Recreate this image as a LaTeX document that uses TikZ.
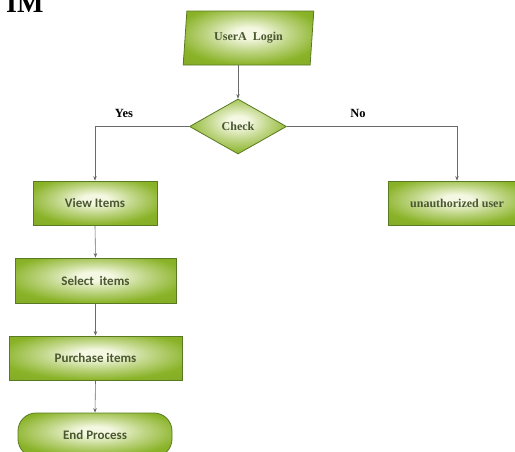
\documentclass[tikz,border=0pt]{standalone}
\usepackage{fontspec}
\setmainfont{Liberation Serif}
\newfontfamily\boxsans{Carlito}
\usetikzlibrary{shapes.geometric,arrows.meta}
\definecolor{leafout}{HTML}{8AB328}
\definecolor{leafin}{HTML}{F4F8E2}
\definecolor{leafedge}{HTML}{5A7A22}
\definecolor{leaftext}{HTML}{4A5730}
\definecolor{wire}{HTML}{6A6A6A}
\pgfdeclareradialshading{glow}{\pgfpoint{0bp}{5bp}}{color(0bp)=(leafin); color(5bp)=(leafin); color(16bp)=(leafout!50!leafin); color(28bp)=(leafout); color(48bp)=(leafout!90!black); color(75bp)=(leafout!75!black)}
\tikzset{
  leaf/.style={draw=leafedge, line width=0.8pt, shading=glow, text=leaftext, inner sep=0pt},
  sansbox/.style={leaf, rectangle, font=\boxsans\bfseries\fontsize{13}{15}\selectfont, minimum height=44},
  serifbox/.style={leaf, font=\bfseries\fontsize{12}{14}\selectfont},
  flow/.style={draw=wire, line width=0.6pt, -{Stealth[length=4.5pt,width=3.5pt]}},
  branch/.style={font=\bfseries\fontsize{12.5}{14}\selectfont, inner sep=0pt, text=black}
}
\begin{document}
\begin{tikzpicture}[x=1pt,y=-1pt]
\useasboundingbox (0,0) rectangle (515,451);
\node[anchor=base west, font=\bfseries\fontsize{28}{30}\selectfont, inner sep=0pt] (im) at (6,12) {IM};
\node[serifbox, trapezium, trapezium left angle=79.5, trapezium right angle=100.5,
      trapezium stretches=true, minimum width=131, minimum height=54] (login) at (248.5,38) {UserA\ \ Login};
\node[serifbox, diamond, minimum width=97, minimum height=55] (check) at (238,126.5) {Check};
\node[sansbox, minimum width=124] (view) at (95,203) {View Items};
\node[sansbox, minimum width=161, minimum height=45] (select) at (95.5,280.5) {Select\ \ items};
\node[sansbox, minimum width=173] (purchase) at (95.5,358) {Purchase items};
\node[sansbox, minimum width=154, rounded corners=18pt] (endp) at (95,435) {End Process};
\node[serifbox, rectangle, minimum width=138, minimum height=44] (unauth) at (457,203) {unauthorized user};
\node[branch] (yes) at (124,113) {Yes};
\node[branch] (no) at (358,113) {No};
\draw[flow] (login.south -| check.north) -- (check.north);
\draw[flow] (check.west) -| (view.north);
\draw[flow] (check.east) -| (unauth.north);
\draw[flow] (view.south) -- (select.north);
\draw[flow] (select.south) -- (purchase.north);
\draw[flow] (purchase.south) -- (endp.north);
\end{tikzpicture}
\end{document}
